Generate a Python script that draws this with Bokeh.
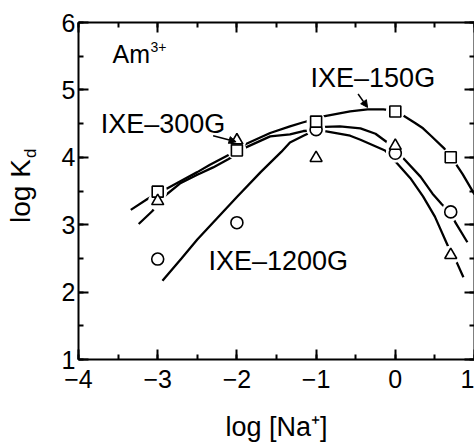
from bokeh.plotting import figure
from bokeh.models import (LinearAxis, SingleIntervalTicker, FixedTicker, Label, Arrow,
                          NormalHead, CustomJSTickFormatter)
from bokeh.embed import file_html
from bokeh.resources import INLINE

# ---- data ----
x_pts = [-3, -2, -1, 0, 0.7]
sq_150G = [3.49, 4.10, 4.53, 4.68, 4.00]
tri_300G = [3.35, 4.25, 3.99, 4.17, 2.55]
cir_1200G = [2.49, 3.03, 4.41, 4.06, 3.19]

c150_x = [-3.34, -3.13, -3.0, -2.94, -2.72, -2.5, -2.34, -2.13, -2.0, -1.9, -1.58, -1.33,
          -1.16, -1.0, -0.89, -0.57, -0.35, -0.15, 0.0, 0.1, 0.25, 0.35, 0.45, 0.61, 0.71, 0.85, 1.0]
c150_y = [3.22, 3.38, 3.47, 3.50, 3.64, 3.78, 3.89, 4.02, 4.10, 4.19, 4.36, 4.46,
          4.52, 4.57, 4.61, 4.68, 4.71, 4.71, 4.69, 4.62, 4.51, 4.43, 4.32, 4.14, 4.00, 3.75, 3.45]

c300_x = [-3.24, -3.07, -3.0, -2.94, -2.72, -2.5, -2.3, -2.11, -2.0, -1.9, -1.58, -1.33,
          -1.16, -1.0, -0.89, -0.57, -0.44, -0.13, 0.03, 0.19, 0.35, 0.5, 0.67, 0.7, 0.78, 0.86]
c300_y = [3.01, 3.20, 3.30, 3.40, 3.61, 3.74, 3.85, 3.97, 4.05, 4.14, 4.31, 4.34,
          4.39, 4.40, 4.39, 4.32, 4.26, 4.10, 3.90, 3.69, 3.42, 3.12, 2.67, 2.58, 2.43, 2.22]

c1200_x = [-2.94, -2.7, -2.5, -2.2, -2.0, -1.7, -1.44, -1.33, -1.16, -1.0, -0.89, -0.7,
           -0.44, -0.25, -0.1, 0.09, 0.32, 0.47, 0.59, 0.7, 0.76, 0.91]
c1200_y = [2.17, 2.50, 2.78, 3.16, 3.41, 3.78, 4.08, 4.22, 4.32, 4.41, 4.45, 4.46,
           4.43, 4.35, 4.22, 4.00, 3.71, 3.46, 3.30, 3.18, 3.03, 2.74]

x_tick_labels = {-4: "\u22124", -3: "\u22123", -2: "\u22122", -1: "\u22121", 0: "0", 1: "1"}
y_tick_labels = {1: "1", 2: "2", 3: "3", 4: "4", 5: "5", 6: "6"}

label_texts = ["IXE\u2013150G", "IXE\u2013300G", "IXE\u20131200G"]
label_x = [-1.07, -3.72, -2.36]
label_y = [5.17, 4.49, 2.46]

arrow_150 = dict(x_start=-0.47, y_start=4.94, x_end=-0.35, y_end=4.74)
arrow_300 = dict(x_start=-2.30, y_start=4.32, x_end=-2.01, y_end=4.23)

x_title = "log [Na\u207a]"
y_title = "log K"
y_title_sub = "\u2007" * 8 + "d"

FONT = "Liberation Sans"

p = figure(width=474, height=444, x_range=(-4, 1), y_range=(1, 6),
           output_backend="svg", toolbar_location=None,
           min_border_left=78, min_border_top=22, min_border_right=0, min_border_bottom=77)
p.grid.visible = False
p.outline_line_color = None
p.background_fill_color = "white"
p.border_fill_color = "white"

blank = CustomJSTickFormatter(code="return ''")


def style_axis(ax, show=True):
    ax.ticker = SingleIntervalTicker(interval=1, num_minor_ticks=2)
    ax.major_tick_in = 10
    ax.major_tick_out = 0
    ax.minor_tick_in = 5
    ax.minor_tick_out = 0
    ax.axis_line_width = 2
    ax.major_tick_line_width = 2
    ax.minor_tick_line_width = 2
    ax.axis_line_color = "black"
    ax.major_tick_line_color = "black"
    ax.minor_tick_line_color = "black"
    ax.major_label_text_font = FONT
    ax.major_label_text_font_size = "25px"
    ax.major_label_text_color = "black"
    if not show:
        ax.formatter = blank
        ax.major_label_standoff = 0


xa = p.xaxis[0]
style_axis(xa)
xa.major_label_overrides = x_tick_labels
xa.major_label_standoff = 10
xa.axis_label = x_title
xa.axis_label_text_font = FONT
xa.axis_label_text_font_size = "27px"
xa.axis_label_text_font_style = "normal"
xa.axis_label_text_color = "black"
xa.axis_label_standoff = 21

ya = p.yaxis[0]
style_axis(ya)
ya.major_label_overrides = y_tick_labels
ya.major_label_standoff = 3
ya.axis_label = y_title_sub
ya.axis_label_text_font = FONT
ya.axis_label_text_font_size = "17px"
ya.axis_label_text_font_style = "normal"
ya.axis_label_text_color = "black"
ya.axis_label_standoff = 19

yb = LinearAxis(ticker=FixedTicker(ticks=[]), formatter=blank, axis_line_color=None,
                major_tick_line_color=None, minor_tick_line_color=None,
                major_label_standoff=0, axis_label=y_title, axis_label_text_font=FONT,
                axis_label_text_font_size="28px", axis_label_text_font_style="normal",
                axis_label_text_color="black", axis_label_standoff=-18)
p.add_layout(yb, "left")

top = LinearAxis()
style_axis(top, show=False)
p.add_layout(top, "above")
right = LinearAxis()
style_axis(right, show=False)
p.add_layout(right, "right")

# curves
for cx, cy in [(c150_x, c150_y), (c300_x, c300_y), (c1200_x, c1200_y)]:
    p.line(cx, cy, line_color="black", line_width=2.3)

# white halos to break lines around markers
for ys in [sq_150G, tri_300G, cir_1200G]:
    p.scatter(x_pts, ys, marker="circle", size=19, fill_color="white", line_color=None)

p.scatter(x_pts, cir_1200G, marker="circle", size=12, fill_color="white",
          line_color="black", line_width=1.6)
p.scatter(x_pts, sq_150G, marker="square", size=11, fill_color="white",
          line_color="black", line_width=1.6)
p.scatter(x_pts, tri_300G, marker="triangle", size=12, fill_color="white",
          line_color="black", line_width=1.6)

# curve labels
for t, lx, ly in zip(label_texts, label_x, label_y):
    p.add_layout(Label(x=lx, y=ly, text=t, text_font=FONT, text_font_size="27px",
                       text_color="black", text_baseline="alphabetic", text_align="left"))

p.add_layout(Label(x=-3.57, y=5.54, text="Am", text_font=FONT, text_font_size="25px",
                   text_color="black", text_baseline="alphabetic"))
p.add_layout(Label(x=-3.09, y=5.64, text="3+", text_font=FONT, text_font_size="14px",
                   text_color="black", text_baseline="alphabetic"))

for a in [arrow_150, arrow_300]:
    p.add_layout(Arrow(end=NormalHead(size=7, fill_color="black", line_color="black",
                                      line_width=1),
                       line_width=1.5, line_color="black", **a))

open("out.html", "w").write(file_html(p, INLINE))
